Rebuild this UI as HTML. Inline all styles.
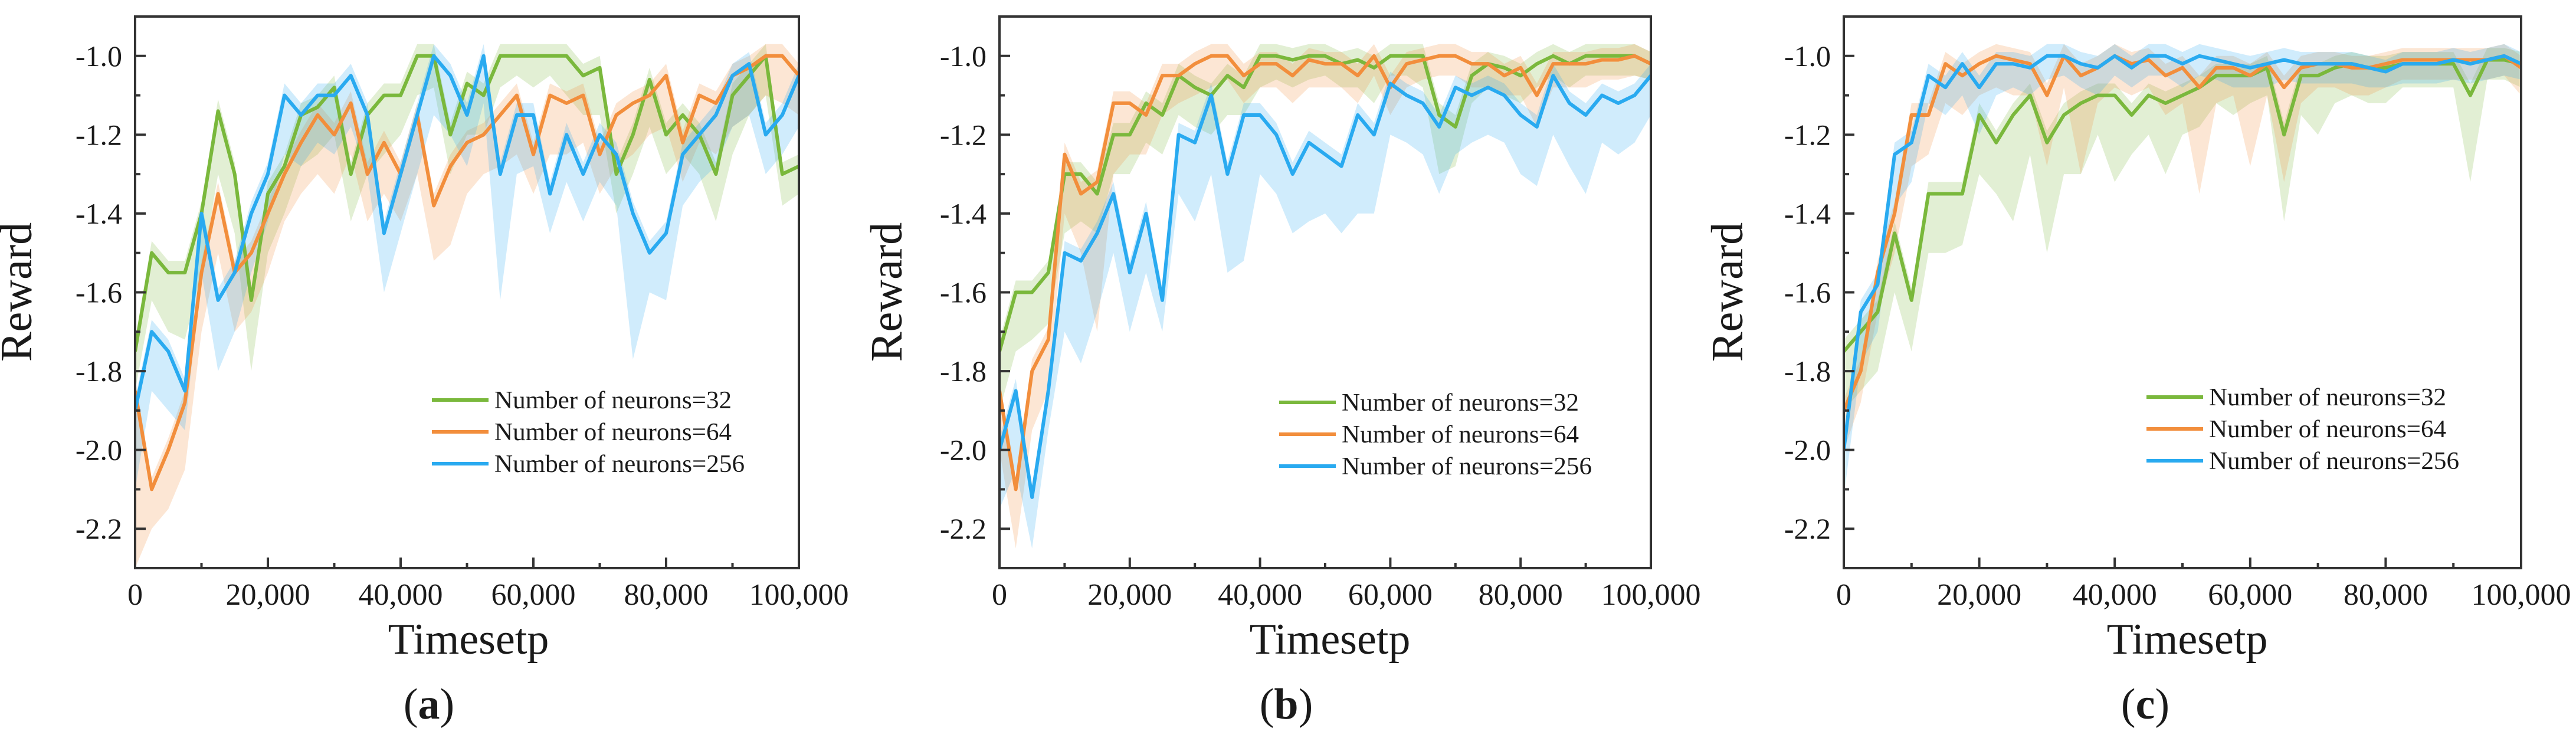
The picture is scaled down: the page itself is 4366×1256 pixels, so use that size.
<!DOCTYPE html>
<html><head><meta charset="utf-8">
<style>
html,body{margin:0;padding:0;background:#fff;}
svg{display:block;}
text{font-family:"Liberation Serif",serif;fill:#1a1a1a;}
</style></head>
<body>
<svg id="fig" width="4366" height="1256" viewBox="0 0 4366 1256" xmlns="http://www.w3.org/2000/svg"></svg>
<script>
// ---- data (x every 2500 timesteps, 0..100000) ----
const xTicks = [0, 20000, 40000, 60000, 80000, 100000];
const xTickLabels = ["0", "20,000", "40,000", "60,000", "80,000", "100,000"];
const yTicks = [-1.0, -1.2, -1.4, -1.6, -1.8, -2.0, -2.2];
const yTickLabels = ["-1.0", "-1.2", "-1.4", "-1.6", "-1.8", "-2.0", "-2.2"];
const seriesNames = ["Number of neurons=32", "Number of neurons=64", "Number of neurons=256"];
const panelLabels = ["a", "b", "c"];

const a32 = [-1.75,-1.5,-1.55,-1.55,-1.4,-1.14,-1.3,-1.62,-1.35,-1.28,-1.15,-1.13,-1.08,-1.3,-1.15,-1.1,-1.1,-1.0,-1.0,-1.2,-1.07,-1.1,-1.0,-1.0,-1.0,-1.0,-1.0,-1.05,-1.03,-1.3,-1.2,-1.06,-1.2,-1.15,-1.2,-1.3,-1.1,-1.05,-1.0,-1.3,-1.28];
const a64 = [-1.85,-2.1,-2.0,-1.88,-1.55,-1.35,-1.55,-1.5,-1.4,-1.3,-1.22,-1.15,-1.2,-1.12,-1.3,-1.22,-1.3,-1.15,-1.38,-1.28,-1.22,-1.2,-1.15,-1.1,-1.25,-1.1,-1.12,-1.1,-1.25,-1.15,-1.12,-1.1,-1.05,-1.22,-1.1,-1.12,-1.05,-1.03,-1.0,-1.0,-1.05];
const a256 = [-1.9,-1.7,-1.75,-1.85,-1.4,-1.62,-1.55,-1.4,-1.3,-1.1,-1.15,-1.1,-1.1,-1.05,-1.15,-1.45,-1.3,-1.15,-1.0,-1.05,-1.15,-1.0,-1.3,-1.15,-1.15,-1.35,-1.2,-1.3,-1.2,-1.25,-1.4,-1.5,-1.45,-1.25,-1.2,-1.15,-1.05,-1.02,-1.2,-1.15,-1.05];
const a32low = [-1.85,-1.62,-1.7,-1.72,-1.55,-1.3,-1.45,-1.8,-1.5,-1.4,-1.28,-1.25,-1.2,-1.42,-1.3,-1.25,-1.2,-1.1,-1.08,-1.3,-1.2,-1.2,-1.08,-1.05,-1.08,-1.05,-1.1,-1.15,-1.15,-1.4,-1.3,-1.18,-1.3,-1.25,-1.3,-1.42,-1.25,-1.15,-1.1,-1.38,-1.35];
const a64low = [-2.3,-2.2,-2.15,-2.05,-1.7,-1.5,-1.7,-1.65,-1.55,-1.42,-1.35,-1.3,-1.35,-1.25,-1.42,-1.35,-1.42,-1.3,-1.52,-1.48,-1.35,-1.3,-1.28,-1.25,-1.35,-1.25,-1.25,-1.22,-1.35,-1.28,-1.25,-1.2,-1.18,-1.32,-1.22,-1.25,-1.18,-1.15,-1.1,-1.12,-1.15];
const a256low = [-2.1,-1.85,-1.9,-1.95,-1.55,-1.8,-1.7,-1.55,-1.42,-1.25,-1.28,-1.22,-1.25,-1.18,-1.3,-1.6,-1.45,-1.3,-1.15,-1.2,-1.28,-1.12,-1.62,-1.3,-1.28,-1.45,-1.32,-1.42,-1.32,-1.38,-1.77,-1.6,-1.62,-1.38,-1.32,-1.28,-1.18,-1.15,-1.3,-1.25,-1.18];

const b32 = [-1.75,-1.6,-1.6,-1.55,-1.3,-1.3,-1.35,-1.2,-1.2,-1.12,-1.15,-1.05,-1.08,-1.1,-1.05,-1.08,-1.0,-1.0,-1.01,-1.0,-1.0,-1.02,-1.01,-1.03,-1.0,-1.0,-1.0,-1.15,-1.18,-1.05,-1.02,-1.03,-1.05,-1.02,-1.0,-1.02,-1.0,-1.0,-1.0,-1.0,-1.02];
const b64 = [-1.85,-2.1,-1.8,-1.72,-1.25,-1.35,-1.32,-1.12,-1.12,-1.15,-1.05,-1.05,-1.02,-1.0,-1.0,-1.05,-1.02,-1.02,-1.05,-1.01,-1.02,-1.02,-1.05,-1.0,-1.08,-1.02,-1.01,-1.0,-1.0,-1.02,-1.02,-1.05,-1.03,-1.1,-1.02,-1.02,-1.02,-1.01,-1.01,-1.0,-1.02];
const b256 = [-2.0,-1.85,-2.12,-1.85,-1.5,-1.52,-1.45,-1.35,-1.55,-1.4,-1.62,-1.2,-1.22,-1.1,-1.3,-1.15,-1.15,-1.2,-1.3,-1.22,-1.25,-1.28,-1.15,-1.2,-1.07,-1.1,-1.12,-1.18,-1.08,-1.1,-1.08,-1.1,-1.15,-1.18,-1.05,-1.12,-1.15,-1.1,-1.12,-1.1,-1.05];
const b32low = [-1.9,-1.75,-1.72,-1.68,-1.45,-1.42,-1.45,-1.3,-1.3,-1.22,-1.25,-1.15,-1.18,-1.2,-1.15,-1.15,-1.08,-1.06,-1.08,-1.06,-1.05,-1.08,-1.08,-1.12,-1.05,-1.05,-1.08,-1.3,-1.28,-1.12,-1.08,-1.1,-1.12,-1.08,-1.05,-1.08,-1.05,-1.05,-1.05,-1.05,-1.06];
const b64low = [-2.0,-2.25,-1.95,-1.85,-1.4,-1.5,-1.7,-1.3,-1.25,-1.25,-1.15,-1.12,-1.1,-1.08,-1.06,-1.12,-1.08,-1.08,-1.12,-1.08,-1.08,-1.08,-1.12,-1.05,-1.15,-1.08,-1.06,-1.05,-1.05,-1.08,-1.08,-1.1,-1.1,-1.18,-1.08,-1.08,-1.08,-1.06,-1.06,-1.05,-1.06];
const b256low = [-2.15,-2.05,-2.25,-1.95,-1.7,-1.78,-1.65,-1.5,-1.7,-1.55,-1.7,-1.35,-1.42,-1.3,-1.55,-1.52,-1.3,-1.35,-1.45,-1.42,-1.4,-1.45,-1.4,-1.4,-1.2,-1.22,-1.25,-1.35,-1.25,-1.22,-1.2,-1.22,-1.3,-1.33,-1.2,-1.28,-1.35,-1.22,-1.25,-1.22,-1.15];

const c32 = [-1.75,-1.7,-1.65,-1.45,-1.62,-1.35,-1.35,-1.35,-1.15,-1.22,-1.15,-1.1,-1.22,-1.15,-1.12,-1.1,-1.1,-1.15,-1.1,-1.12,-1.1,-1.08,-1.05,-1.05,-1.05,-1.03,-1.2,-1.05,-1.05,-1.03,-1.02,-1.03,-1.03,-1.02,-1.02,-1.02,-1.02,-1.1,-1.01,-1.01,-1.02];
const c64 = [-1.9,-1.8,-1.55,-1.4,-1.15,-1.15,-1.02,-1.05,-1.02,-1.0,-1.01,-1.02,-1.1,-1.0,-1.05,-1.03,-1.0,-1.02,-1.01,-1.05,-1.03,-1.08,-1.03,-1.03,-1.05,-1.02,-1.08,-1.03,-1.02,-1.02,-1.03,-1.03,-1.02,-1.01,-1.01,-1.01,-1.01,-1.01,-1.01,-1.0,-1.03];
const c256 = [-2.0,-1.65,-1.58,-1.25,-1.22,-1.05,-1.08,-1.02,-1.08,-1.02,-1.02,-1.03,-1.0,-1.0,-1.02,-1.03,-1.0,-1.03,-1.0,-1.0,-1.02,-1.0,-1.01,-1.02,-1.03,-1.02,-1.01,-1.02,-1.02,-1.02,-1.02,-1.03,-1.04,-1.02,-1.02,-1.02,-1.01,-1.02,-1.01,-1.0,-1.02];
const c32low = [-1.9,-1.85,-1.8,-1.6,-1.75,-1.5,-1.5,-1.48,-1.3,-1.35,-1.42,-1.25,-1.5,-1.3,-1.3,-1.2,-1.32,-1.25,-1.2,-1.3,-1.2,-1.18,-1.12,-1.15,-1.12,-1.1,-1.42,-1.15,-1.2,-1.12,-1.1,-1.12,-1.12,-1.08,-1.08,-1.08,-1.08,-1.32,-1.06,-1.06,-1.08];
const c64low = [-2.0,-1.88,-1.65,-1.5,-1.28,-1.25,-1.12,-1.15,-1.1,-1.08,-1.1,-1.1,-1.28,-1.08,-1.3,-1.12,-1.08,-1.1,-1.08,-1.15,-1.12,-1.35,-1.12,-1.1,-1.28,-1.1,-1.32,-1.12,-1.08,-1.08,-1.1,-1.1,-1.08,-1.06,-1.06,-1.06,-1.06,-1.06,-1.06,-1.05,-1.1];
const c256low = [-2.12,-1.78,-1.7,-1.38,-1.32,-1.12,-1.15,-1.1,-1.2,-1.1,-1.08,-1.1,-1.06,-1.05,-1.08,-1.1,-1.05,-1.08,-1.05,-1.05,-1.08,-1.05,-1.06,-1.08,-1.08,-1.08,-1.06,-1.07,-1.07,-1.07,-1.07,-1.08,-1.08,-1.07,-1.07,-1.07,-1.06,-1.07,-1.06,-1.05,-1.06];

const panelSeries = [[a32,a64,a256],[b32,b64,b256],[c32,c64,c256]];
const panelLows = [[a32low,a64low,a256low],[b32low,b64low,b256low],[c32low,c64low,c256low]];

// ---- layout ----
const colors = ["#7ab83c","#f28e3c","#29aaf0"];
const panels = [
  {L:229,R:1354,legX:732,legY:678,rwX:53,tsX:794,lbX:727},
  {L:1694,R:2798,legX:2168,legY:682,rwX:1528,tsX:2254,lbX:2180},
  {L:3125,R:4273,legX:3638,legY:673,rwX:2953,tsX:3707,lbX:3636}
];
const TOP=28, BOT=963, YMIN=-2.3, YMAX=-0.9, XMAX=100000;
const NS="http://www.w3.org/2000/svg";
const svg=document.getElementById('fig');
function mk(tag, attrs, parent){const e=document.createElementNS(NS,tag);for(const k in attrs)e.setAttribute(k,attrs[k]);(parent||svg).appendChild(e);return e;}

const defs=mk('defs',{});
panels.forEach((p,pi)=>{
  const xs=v=>p.L+(v/XMAX)*(p.R-p.L);
  const ys=v=>TOP+(YMAX-v)/(YMAX-YMIN)*(BOT-TOP);
  const g=mk('g',{});
  
  
  const cp=mk('clipPath',{id:'clip'+pi},defs);
  mk('rect',{x:p.L,y:TOP,width:p.R-p.L,height:BOT-TOP},cp);
  const plot=mk('g',{'clip-path':'url(#clip'+pi+')'},g);
  // shaded bands
  panelSeries[pi].forEach((s,si)=>{
    const low=panelLows[pi][si];
    const n=s.length;
    let pts=[];
    for(let i=0;i<n;i++)pts.push(xs(i*XMAX/(n-1))+','+ys(Math.min(-0.97,s[i]+0.03)));
    for(let i=n-1;i>=0;i--)pts.push(xs(i*XMAX/(n-1))+','+ys(low[i]));
    const band=mk('polygon',{points:pts.join(' '),fill:colors[si],'fill-opacity':0.22,stroke:'none'},plot);
    
    
  });
  panelSeries[pi].forEach((s,si)=>{
    const n=s.length;
    const pts=s.map((v,i)=>xs(i*XMAX/(n-1))+','+ys(v)).join(' ');
    const line=mk('polyline',{points:pts,fill:'none',stroke:colors[si],'stroke-width':6,'stroke-linejoin':'round'},plot);
    
    
  });
  // frame
  const fr=mk('rect',{x:p.L,y:TOP,width:p.R-p.L,height:BOT-TOP,fill:'none',stroke:'#333',"stroke-width":4},g);
  
  
  // x ticks
  xTicks.forEach((t,i)=>{
    mk('line',{x1:xs(t),x2:xs(t),y1:BOT,y2:BOT-18,stroke:'#333','stroke-width':4},g);
    if(i<xTicks.length-1)mk('line',{x1:xs(t+10000),x2:xs(t+10000),y1:BOT,y2:BOT-9,stroke:'#333','stroke-width':4},g);
    const tx=mk('text',{x:xs(t),y:1025,'font-size':52,'text-anchor':'middle'},g);
    tx.textContent=xTickLabels[i];
    
    
  });
  yTicks.forEach((t,i)=>{
    mk('line',{x1:p.L,x2:p.L+18,y1:ys(t),y2:ys(t),stroke:'#333','stroke-width':4},g);
    mk('line',{x1:p.L,x2:p.L+9,y1:ys(t+0.1),y2:ys(t+0.1),stroke:'#333','stroke-width':4},g);
    const ty=mk('text',{x:p.L-22,y:ys(t)+17,'font-size':50,'text-anchor':'end'},g);
    ty.textContent=yTickLabels[i];
    
    
  });
  mk('line',{x1:p.L,x2:p.L+9,y1:ys(-2.3+0.1)+0,y2:ys(-2.3+0.1),stroke:'#333','stroke-width':0},g);
  // titles
  const yt=mk('text',{x:p.rwX,y:495,'font-size':76,'text-anchor':'middle',transform:'rotate(-90 '+p.rwX+' 495)'},g);
  yt.textContent='Reward';
  
  
  const xt=mk('text',{x:p.tsX,y:1108,'font-size':74,'text-anchor':'middle'},g);
  xt.textContent='Timesetp';
  
  
  const lb=mk('text',{x:p.lbX,y:1218,'font-size':74,'text-anchor':'middle'},g);
  lb.innerHTML='(<tspan font-weight="bold">'+panelLabels[pi]+'</tspan>)';
  
  
  // legend
  seriesNames.forEach((nm,si)=>{
    const y=p.legY+si*54;
    const le=mk('g',{},g);
    
    
    mk('line',{x1:p.legX,x2:p.legX+96,y1:y,y2:y,stroke:colors[si],'stroke-width':6},le);
    const t=mk('text',{x:p.legX+106,y:y+14,'font-size':42,textLength:nm.length>20?424:402,lengthAdjust:'spacingAndGlyphs'},le);
    t.textContent=nm;
  });
});
</script>
</body></html>
